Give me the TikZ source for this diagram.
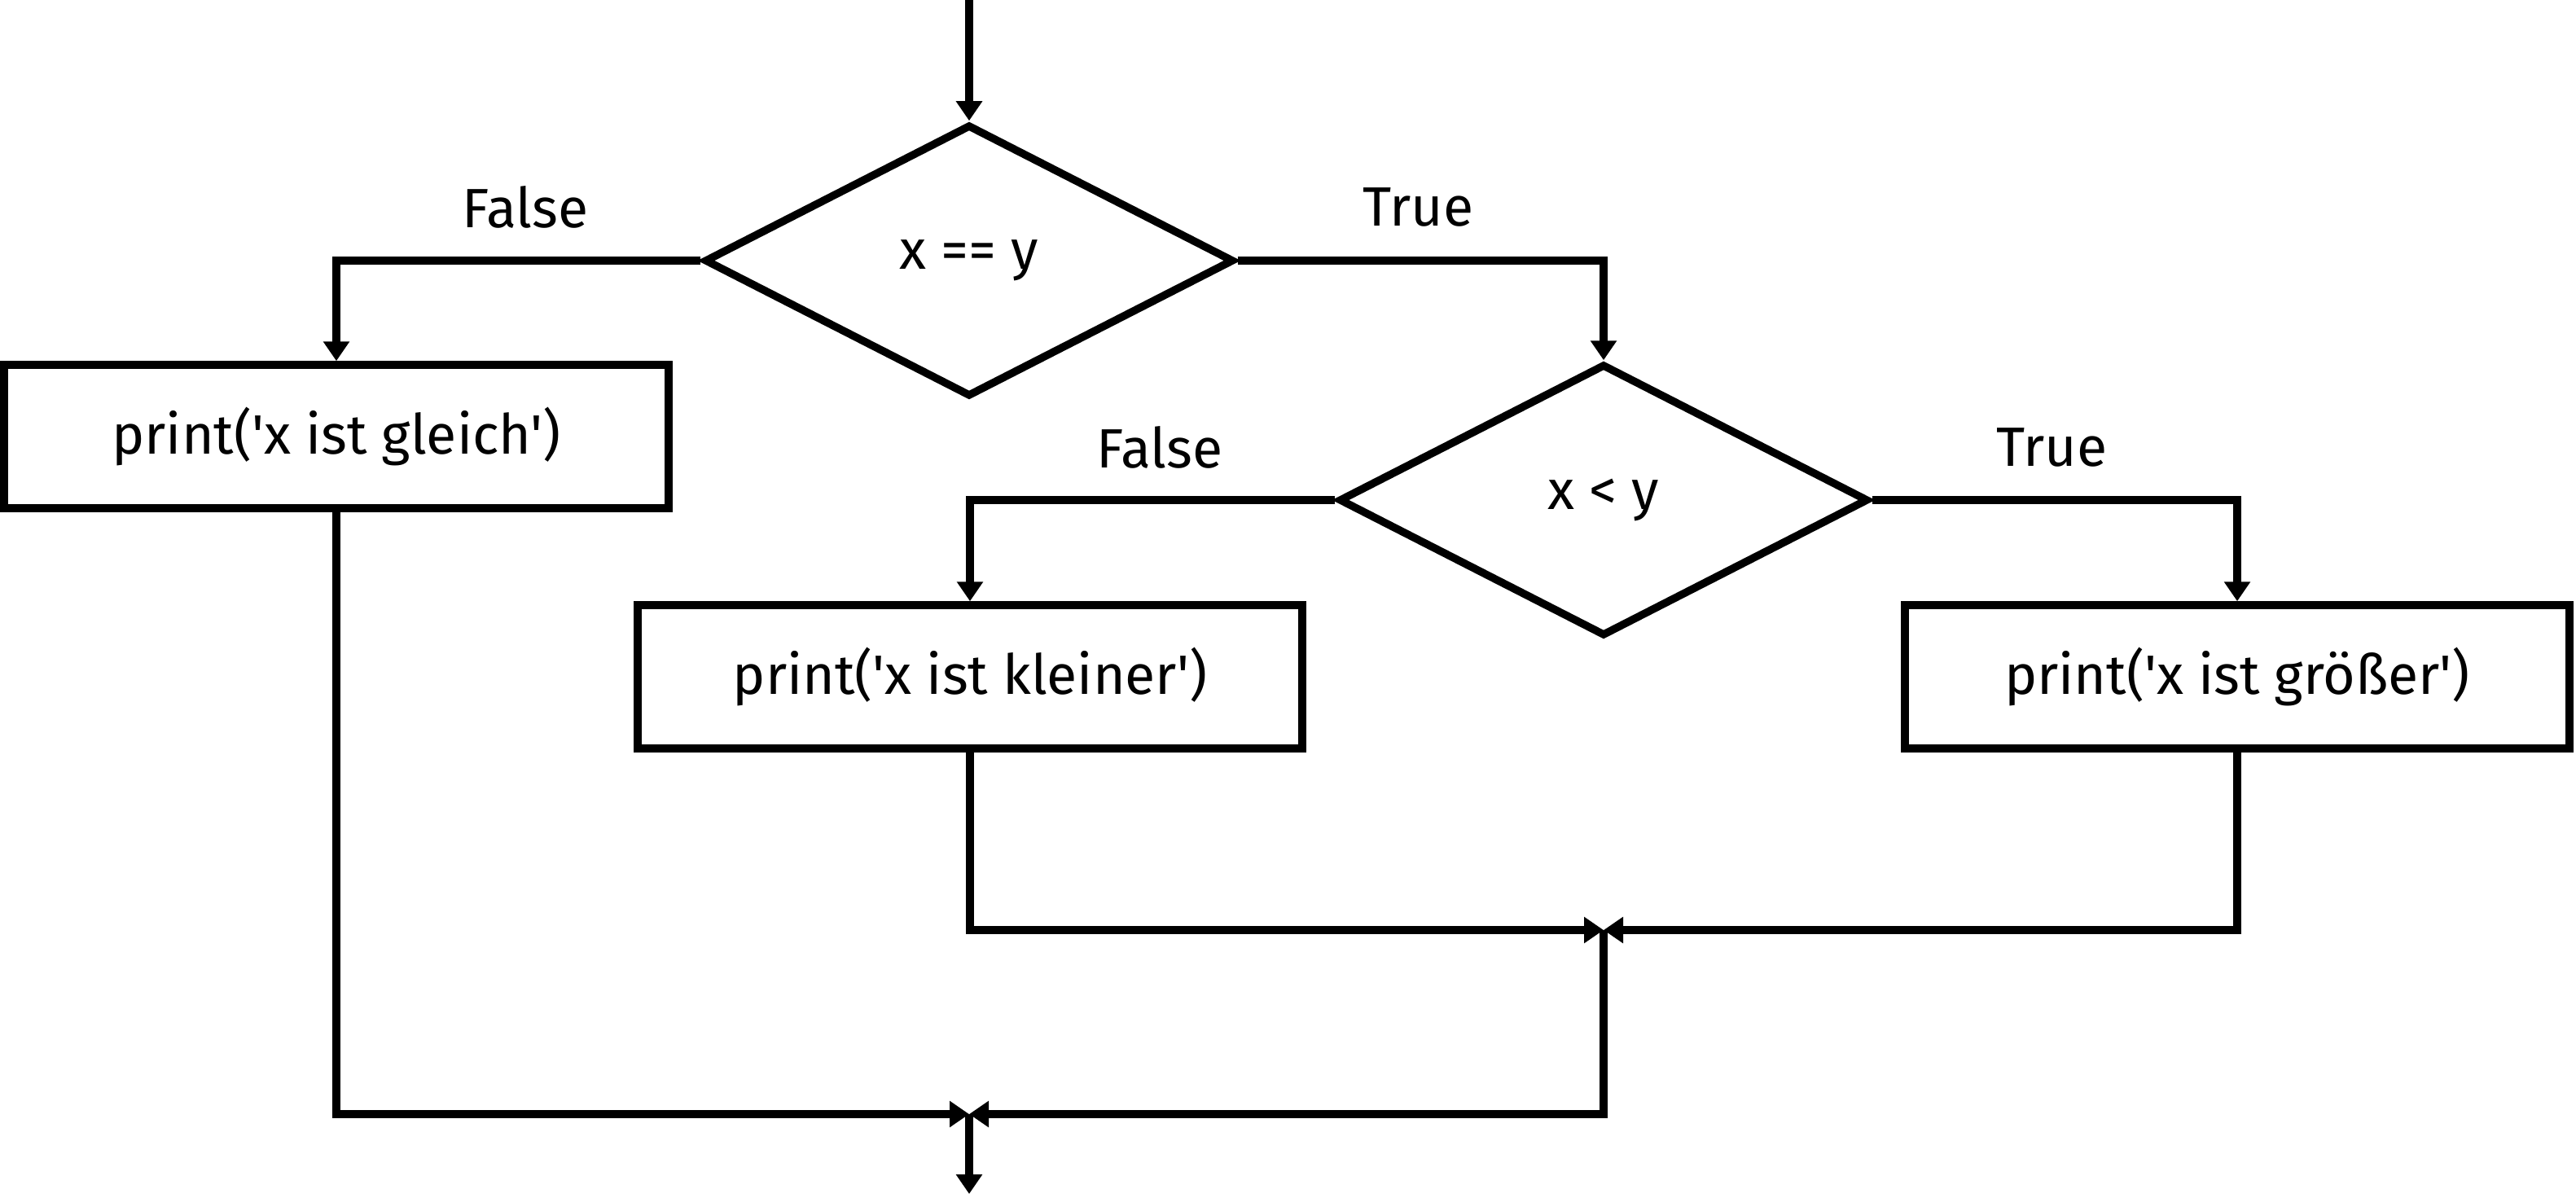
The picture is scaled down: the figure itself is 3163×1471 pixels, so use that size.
\documentclass[tikz,border=0pt]{standalone}
\usepackage{fontspec}
\newfontfamily\diagfont{Fira Sans}
\usetikzlibrary{shapes.geometric,arrows.meta}
\begin{document}
\begin{tikzpicture}[x=0.5pt,y=-0.5pt,
  every node/.style={font=\diagfont\fontsize{34}{40}\selectfont},
  procbox/.style={draw,line width=4.75pt,minimum width=408pt,minimum height=88pt,inner sep=0pt},
  decision/.style={draw,diamond,line width=4.75pt,minimum width=325pt,minimum height=167pt,inner sep=0pt},
  arr/.style={line width=4.75pt,-{Triangle[length=12pt,width=15.5pt]}},
  lbl/.style={inner sep=0pt}]
\useasboundingbox (0,0) rectangle (3163,1471);
\coordinate (start) at (1190,0);
\node[decision] (d1) at (1190,320) {x == y};
\node[procbox] (b1) at (413,536) {print('x ist gleich')};
\node[decision] (d2) at (1969,614) {x < y};
\node[procbox] (b2) at (1191,831) {print('x ist kleiner')};
\node[procbox] (b3) at (2747,831) {print('x ist größer')};
\node[lbl] (f1) at (645,254) {False};
\node[lbl] (t1) at (1741,254) {True};
\node[lbl] (f2) at (1424,549) {False};
\node[lbl] (t2) at (2519,549) {True};
\coordinate (m1) at (1969,1142);
\coordinate (m2) at (1190,1368);
\coordinate (stop) at (1190,1466);
\draw[arr] (start) -- (d1.north);
\draw[arr] (d1.west) -| (b1.north);
\draw[arr] (d1.east) -| (d2.north);
\draw[arr] (d2.west) -| (b2.north);
\draw[arr] (d2.east) -| (b3.north);
\draw[arr] (b2.south) |- (m1);
\draw[arr] (b3.south) |- (m1);
\draw[arr] (m1) |- (m2);
\draw[arr] (b1.south) |- (m2);
\draw[arr] (m2) -- (stop);
\end{tikzpicture}
\end{document}
